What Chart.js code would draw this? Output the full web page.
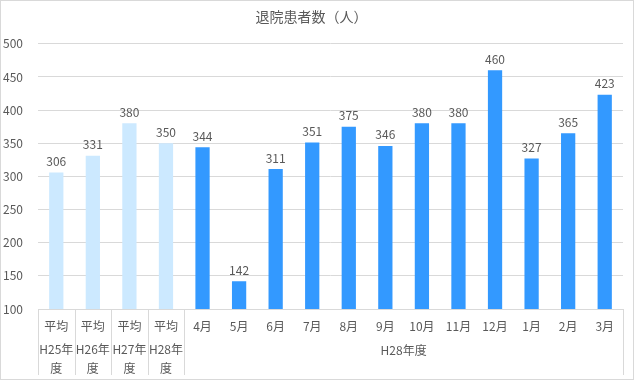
<!DOCTYPE html>
<html>
<head>
<meta charset="utf-8">
<script src="https://cdn.jsdelivr.net/npm/chart.js@4"></script>
<style>
  html, body { margin: 0; padding: 0; background: #fff; }
  #wrap { width: 634px; height: 380px; position: relative; }
</style>
</head>
<body>
<div id="wrap"><canvas id="chart"></canvas></div>
<script>
  const categories = ['平均', '平均', '平均', '平均', '4月', '5月', '6月', '7月', '8月', '9月', '10月', '11月', '12月', '1月', '2月', '3月'];
  const subLabels = [['H25年', '度'], ['H26年', '度'], ['H27年', '度'], ['H28年', '度']];
  const groupLabel = 'H28年度';
  const values = [306, 331, 380, 350, 344, 142, 311, 351, 375, 346, 380, 380, 460, 327, 365, 423];
  const yTicks = [100, 150, 200, 250, 300, 350, 400, 450, 500];

  const FONT = '"Noto Sans CJK JP", "Noto Sans", sans-serif';
  const TEXT = '#595959';
  const GRID = '#d9d9d9';

  const barColors = values.map((v, i) => (i < subLabels.length ? '#cce9ff' : '#3399ff'));

  const extras = {
    id: 'extras',
    beforeDraw(chart) {
      const { ctx, width, height } = chart;
      ctx.save();
      ctx.fillStyle = '#fff';
      ctx.fillRect(0, 0, width, height);
      ctx.restore();
    },
    afterDraw(chart) {
      const { ctx, chartArea, width, height } = chart;
      const xs = chart.scales.x;
      const n = categories.length;
      const step = (xs.right - xs.left) / n;
      const edge = (i) => xs.left + i * step;
      const lineBottom = 375;

      ctx.save();
      ctx.strokeStyle = GRID;
      ctx.lineWidth = 1;
      const seps = [0, 1, 2, 3, 4, n];
      seps.forEach((i) => {
        const x = Math.round(edge(i)) + 0.5;
        ctx.beginPath();
        ctx.moveTo(x, chartArea.bottom);
        ctx.lineTo(x, lineBottom);
        ctx.stroke();
      });

      ctx.fillStyle = TEXT;
      ctx.font = '12px ' + FONT;
      ctx.textAlign = 'center';
      ctx.textBaseline = 'middle';
      subLabels.forEach((lines, i) => {
        const cx = xs.getPixelForValue(i);
        lines.forEach((t, j) => ctx.fillText(t, cx, 349 + j * 19));
      });
      ctx.fillText(groupLabel, (edge(subLabels.length) + edge(n)) / 2, 350);

      // value labels
      const meta = chart.getDatasetMeta(0);
      meta.data.forEach((bar, i) => {
        ctx.fillText(String(values[i]), bar.x, bar.y - 11);
      });

      // outer border
      ctx.strokeStyle = GRID;
      ctx.strokeRect(0.5, 0.5, width - 1, height - 1);
      ctx.restore();
    }
  };

  new Chart(document.getElementById('chart'), {
    type: 'bar',
    data: {
      labels: categories,
      datasets: [{
        label: '退院患者数',
        data: values,
        backgroundColor: barColors,
        barPercentage: 0.39,
        categoryPercentage: 1
      }]
    },
    options: {
      responsive: true,
      maintainAspectRatio: false,
      animation: false,
      layout: { padding: { left: 0, right: 11, top: 0, bottom: 0 } },
      scales: {
        x: {
          grid: { display: false },
          border: { color: GRID },
          ticks: { color: TEXT, font: { family: FONT, size: 12 }, padding: 2, maxRotation: 0, autoSkip: false },
          afterFit: (scale) => { scale.height = 71; }
        },
        y: {
          min: 100,
          max: 500,
          afterBuildTicks: (scale) => { scale.ticks = yTicks.map((v) => ({ value: v })); },
          grid: { color: GRID, drawTicks: false },
          border: { display: false },
          ticks: { color: TEXT, font: { family: FONT, size: 12 }, padding: 15 },
          afterFit: (scale) => { scale.height = scale.height; scale.width = 38; }
        }
      },
      plugins: {
        legend: { display: false },
        tooltip: { enabled: false },
        title: {
          display: true,
          text: '退院患者数（人）',
          color: TEXT,
          font: { family: FONT, size: 14, weight: 'normal' },
          padding: { top: 8, bottom: 19 }
        }
      }
    },
    plugins: [extras]
  });
</script>
</body>
</html>
